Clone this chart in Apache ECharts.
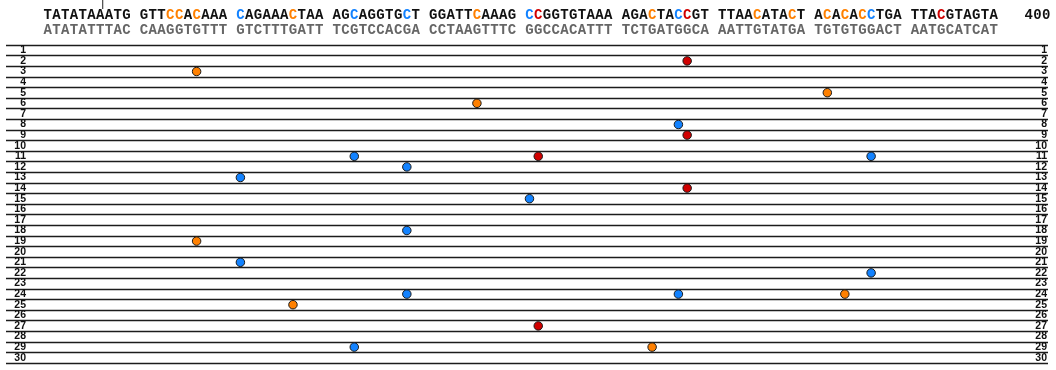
<!DOCTYPE html>
<html>
<head>
<meta charset="utf-8">
<script src="https://cdn.jsdelivr.net/npm/echarts@6/dist/echarts.min.js"></script>
<style>
  html, body { margin: 0; padding: 0; background: #fff; }
  #chart { width: 1056px; height: 370px; }
</style>
</head>
<body>
<div id="chart"></div>
<script>
// sequence window, positions 301-400
const seqStart = 301
const topStrand = 'TATATAAATG GTTCCACAAA CAGAAACTAA AGCAGGTGCT GGATTCAAAG CCGGTGTAAA AGACTACCGT TTAACATACT ACACACCTGA TTACGTAGTA'
const bottomStrand = 'ATATATTTAC CAAGGTGTTT GTCTTTGATT TCGTCCACGA CCTAAGTTTC GGCCACATTT TCTGATGGCA AATTGTATGA TGTGTGGACT AATGCATCAT'

// coloured C's on the top strand
const orangeSites = [314, 315, 317, 327, 346, 364, 375, 379, 382, 384, 386]
const blueSites = [321, 333, 339, 351, 367, 387]
const redSites = [352, 368, 394]

const rowLabels = ['1', '2', '3', '4', '5', '6', '7', '8', '9', '10',
  '11', '12', '13', '14', '15', '16', '17', '18', '19', '20',
  '21', '22', '23', '24', '25', '26', '27', '28', '29', '30']

// dots: [row, position]
const orangeDots = [[3, 317], [5, 382], [6, 346], [19, 317], [24, 384], [25, 327], [29, 364]]
const blueDots = [[8, 367], [11, 333], [11, 387], [12, 339], [13, 321], [15, 351],
  [18, 339], [21, 321], [22, 387], [24, 339], [24, 367], [29, 333]]
const redDots = [[2, 368], [9, 368], [11, 352], [14, 368], [27, 352]]

const ORANGE = '#ff8000'
const BLUE = '#1282ff'
const RED = '#d00000'

// header columns: 100 bases in groups of ten, then the end position
const endLabel = String(seqStart + 99)
const topCols = (topStrand + '   ' + endLabel).split('')
const bottomCols = bottomStrand.split('')
const colIds = topCols.map((c, i) => String(i))

function colOf(pos) {
  const i = pos - seqStart
  return i + Math.floor(i / 10)
}
const siteColor = {}
orangeSites.forEach(p => { siteColor[colOf(p)] = 'o' })
blueSites.forEach(p => { siteColor[colOf(p)] = 'b' })
redSites.forEach(p => { siteColor[colOf(p)] = 'r' })

const monoFont = { fontFamily: '"Liberation Mono", "Courier New", monospace', fontWeight: 'bold', fontSize: 14 }
const numFont = { fontFamily: '"Liberation Sans", Arial, sans-serif', fontWeight: 'bold', fontSize: 10.5 }
const toPoints = list => list.map(d => [String(colOf(d[1])), String(d[0])])

const chart = echarts.init(document.getElementById('chart'))
chart.setOption({
  animation: false,
  grid: [
    { left: 43.3, right: 5.3, top: 45, bottom: 7 },
    { left: 6, right: 8, top: 45, bottom: 7 }
  ],
  xAxis: [
    {
      type: 'category', gridIndex: 0, position: 'top', data: colIds,
      axisLine: { show: false }, axisTick: { show: false }, splitLine: { show: false },
      axisLabel: {
        interval: 0, margin: 30, verticalAlign: 'middle', color: '#111', ...monoFont,
        formatter: (v, idx) => {
          const ch = topCols[idx]
          if (ch === ' ') return ''
          const k = siteColor[idx]
          return k && idx < 109 ? '{' + k + '|' + ch + '}' : ch
        },
        rich: {
          o: { color: ORANGE, ...monoFont },
          b: { color: BLUE, ...monoFont },
          r: { color: RED, ...monoFont }
        }
      }
    },
    {
      type: 'category', gridIndex: 0, position: 'top', data: colIds,
      axisLine: { show: false }, axisTick: { show: false }, splitLine: { show: false },
      axisLabel: {
        interval: 0, margin: 15, verticalAlign: 'middle', color: '#666', ...monoFont,
        formatter: (v, idx) => (bottomCols[idx] && bottomCols[idx] !== ' ') ? bottomCols[idx] : ''
      }
    },
    { type: 'value', gridIndex: 1, show: false, min: 0, max: 1 }
  ],
  yAxis: [
    {
      type: 'category', gridIndex: 0, data: rowLabels, inverse: true, show: false
    },
    {
      type: 'category', gridIndex: 1, data: rowLabels, inverse: true, position: 'left',
      axisLine: { show: false }, axisTick: { show: false },
      splitLine: { show: true, lineStyle: { color: '#1c1c1c', width: 1.3 } },
      axisLabel: { interval: 0, margin: -20, align: 'right', color: '#111', ...numFont }
    },
    {
      type: 'category', gridIndex: 1, data: rowLabels, inverse: true, position: 'right',
      axisLine: { show: false }, axisTick: { show: false }, splitLine: { show: false },
      axisLabel: { interval: 0, margin: -1, align: 'right', color: '#111', ...numFont }
    }
  ],
  series: [
    { name: 'orange', type: 'scatter', xAxisIndex: 0, yAxisIndex: 0, data: toPoints(orangeDots),
      symbolSize: 8.5, itemStyle: { color: ORANGE, borderColor: '#1a1a1a', borderWidth: 1, opacity: 1 } },
    { name: 'blue', type: 'scatter', xAxisIndex: 0, yAxisIndex: 0, data: toPoints(blueDots),
      symbolSize: 8.5, itemStyle: { color: BLUE, borderColor: '#1a1a1a', borderWidth: 1, opacity: 1 } },
    { name: 'red', type: 'scatter', xAxisIndex: 0, yAxisIndex: 0, data: toPoints(redDots),
      symbolSize: 8.5, itemStyle: { color: RED, borderColor: '#1a1a1a', borderWidth: 1, opacity: 1 } }
  ]
})

// small cursor mark above the first group
const cx = chart.convertToPixel({ xAxisIndex: 0 }, '6') + 2.5
chart.setOption({
  graphic: [{
    type: 'line', shape: { x1: cx, y1: 0, x2: cx, y2: 9 },
    style: { stroke: '#222', lineWidth: 1 }
  }]
})
</script>
</body>
</html>
